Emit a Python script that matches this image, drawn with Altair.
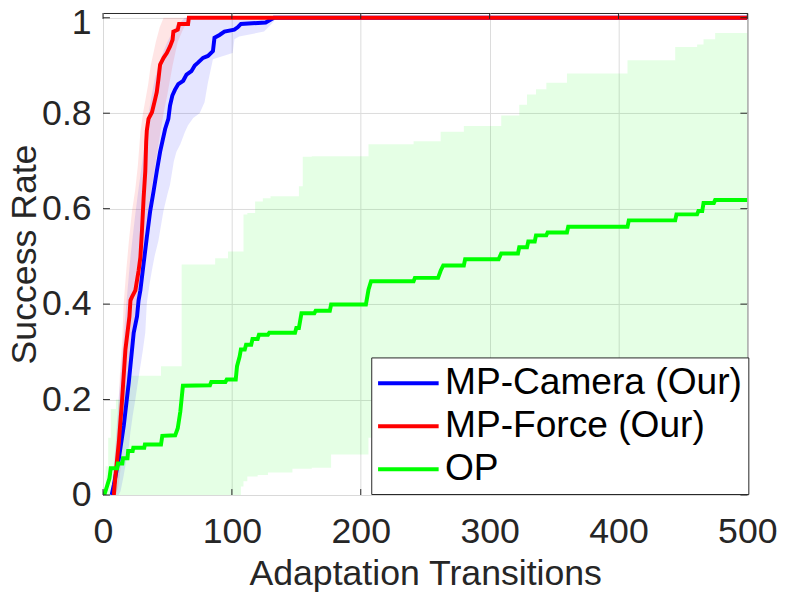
import altair as alt
import pandas as pd

# ---- mean curves ----
cam_x = [6.7, 8.4, 12.3, 16.1, 20, 23.8, 26.4, 27.6, 29, 31.5, 34, 36.6, 39.2, 41.7, 44.3, 48.2, 50.7, 52, 53.8, 55.8,
         58.4, 62.2, 64.8, 68.6, 71.2, 73.7, 77.6, 81.4, 85.3, 86.5, 90.4, 94.2, 101.9, 104.5, 107, 126.2, 132.6, 500]
cam_y = [0, 0.021, 0.077, 0.145, 0.236, 0.34, 0.374, 0.408, 0.429, 0.485, 0.54, 0.595, 0.636, 0.678, 0.719, 0.767, 0.788, 0.816, 0.837, 0.849,
         0.861, 0.868, 0.881, 0.888, 0.90, 0.906, 0.916, 0.92, 0.93, 0.958, 0.964, 0.971, 0.975, 0.98, 0.987, 0.99, 1.0, 1.0]

force_x = [8.4, 9.7, 12.3, 14.8, 17.4, 20.5, 21.3, 22.5, 25.1, 27.6, 29, 30.2, 31.5, 32.8, 33.5, 34, 35.3, 38, 40.5, 41.7,
           43, 44.3, 47, 49.5, 52, 54, 54.6, 58, 59, 66, 66.6, 500]
force_y = [0, 0.042, 0.111, 0.2, 0.305, 0.374, 0.408, 0.415, 0.429, 0.47, 0.498, 0.553, 0.622, 0.678, 0.74, 0.764, 0.788, 0.802, 0.83, 0.844,
           0.871, 0.902, 0.916, 0.926, 0.94, 0.954, 0.971, 0.975, 0.987, 0.987, 1.0, 1.0]

op_x = [1, 5, 6, 11, 11.5, 15, 15.5, 19, 19.5, 23, 23.5, 32, 32.5, 45, 46, 56, 58, 60, 62, 83,
        84, 95, 96, 103, 104, 106, 107, 110, 111, 115, 116, 120, 121, 128, 129, 149, 150, 152, 154, 164,
        165, 176, 177, 204, 206, 208, 241, 242, 260, 262, 264, 280, 281, 307, 309, 322, 323, 329, 330, 335,
        336, 344, 345, 360, 361, 407, 408, 444, 445, 461, 462, 465, 466, 474, 475, 500]
op_y = [0, 0.035, 0.056, 0.056, 0.066, 0.066, 0.077, 0.077, 0.092, 0.092, 0.099, 0.099, 0.106, 0.106, 0.124, 0.125, 0.14, 0.175, 0.229, 0.23,
        0.237, 0.237, 0.242, 0.242, 0.27, 0.29, 0.305, 0.305, 0.315, 0.315, 0.327, 0.327, 0.336, 0.336, 0.34, 0.34, 0.35, 0.35, 0.381, 0.381,
        0.386, 0.386, 0.399, 0.399, 0.43, 0.448, 0.448, 0.455, 0.455, 0.47, 0.481, 0.481, 0.494, 0.494, 0.506, 0.506, 0.519, 0.519, 0.531, 0.531,
        0.544, 0.544, 0.55, 0.55, 0.562, 0.562, 0.5755, 0.5755, 0.588, 0.588, 0.595, 0.595, 0.612, 0.612, 0.618, 0.618]

# ---- shaded bands ----
cam_band_x = [6, 8, 10, 12, 13.6, 16, 17.4, 20, 21.3, 23, 25.1, 27, 29, 31, 32.8, 34, 36, 37.9, 40, 43,
              46.9, 50, 52, 55, 57, 60, 63.5, 66, 70, 75, 78.8, 81.4, 85.3, 100.6, 102, 105.7, 125, 130, 135, 500]
cam_band_lo = [0, 0, 0, 0, 0.008, 0.04, 0.062, 0.1, 0.132, 0.165, 0.2, 0.235, 0.27, 0.305, 0.34, 0.402, 0.44, 0.47, 0.5, 0.533,
               0.595, 0.63, 0.65, 0.7, 0.719, 0.735, 0.76, 0.775, 0.79, 0.8, 0.823, 0.864, 0.913, 0.926, 0.955, 0.961, 0.971, 0.985, 1.0, 1.0]
cam_band_hi = [0, 0.05, 0.12, 0.2, 0.25, 0.33, 0.38, 0.46, 0.5, 0.54, 0.59, 0.63, 0.67, 0.71, 0.75, 0.78, 0.81, 0.84, 0.87, 0.9,
               0.93, 0.95, 0.96, 0.975, 0.985, 0.99, 1.0, 1.0, 1.0, 1.0, 1.0, 1.0, 1.0, 1.0, 1.0, 1.0, 1.0, 1.0, 1.0, 1.0]

force_band_x = [8, 9, 10, 12, 13, 15, 16, 18, 20, 22.5, 25, 27, 29, 31, 33, 35, 37, 41, 44, 47, 50, 54, 58, 62, 67, 500]
force_band_lo = [0, 0, 0, 0.02, 0.04, 0.09, 0.12, 0.18, 0.25, 0.31, 0.37, 0.41, 0.45, 0.5, 0.55, 0.59, 0.63, 0.7, 0.75, 0.8,
                 0.84, 0.9, 0.95, 0.975, 1.0, 1.0]
force_band_hi = [0, 0.05, 0.1, 0.18, 0.25, 0.33, 0.4, 0.47, 0.53, 0.595, 0.64, 0.69, 0.76, 0.8, 0.83, 0.86, 0.9, 0.95, 0.98, 1.0,
                 1.0, 1.0, 1.0, 1.0, 1.0, 1.0]

op_band_x = [0, 2, 4, 6, 10, 14, 20, 45, 61, 87, 97, 107, 109, 112, 118, 120, 124, 128, 130, 147,
             152, 155, 162, 177, 206, 241, 250, 262, 280, 300, 309, 323, 329, 336, 344, 360, 407, 444, 461, 466, 475, 500]
op_band_lo = [0, 0, 0, 0, 0, 0, 0, 0, 0, 0, 0, 0.018, 0.029, 0.039, 0.039, 0.042, 0.042, 0.047, 0.047, 0.055,
              0.055, 0.055, 0.057, 0.085, 0.12, 0.12, 0.14, 0.14, 0.16, 0.17, 0.17, 0.17, 0.19, 0.19, 0.2, 0.21, 0.23, 0.25, 0.26, 0.26, 0.27, 0.27]
op_band_hi = [0, 0.06, 0.12, 0.18, 0.2, 0.23, 0.25, 0.27, 0.483, 0.496, 0.51, 0.51, 0.588, 0.591, 0.615, 0.615, 0.622, 0.622, 0.626, 0.626,
              0.647, 0.709, 0.71, 0.71, 0.735, 0.741, 0.741, 0.761, 0.773, 0.773, 0.795, 0.818, 0.839, 0.85, 0.864, 0.883, 0.911, 0.939, 0.944, 0.955, 0.968, 0.968]

series_names = ["MP-Camera (Our)", "MP-Force (Our)", "OP"]
series_colors = ["#0000ff", "#ff0000", "#00ff00"]
x_ticks = [0, 100, 200, 300, 400, 500]
y_ticks = [0, 0.2, 0.4, 0.6, 0.8, 1.0]

W, H = 651, 487
FONT = "Liberation Sans"
TXT = "#262626"

lines_df = pd.concat([
    pd.DataFrame({"x": cam_x, "y": cam_y, "s": series_names[0], "i": range(len(cam_x))}),
    pd.DataFrame({"x": force_x, "y": force_y, "s": series_names[1], "i": range(len(force_x))}),
    pd.DataFrame({"x": op_x, "y": op_y, "s": series_names[2], "i": range(len(op_x))}),
])
cam_band = pd.DataFrame({"x": cam_band_x, "lo": cam_band_lo, "hi": cam_band_hi})
force_band = pd.DataFrame({"x": force_band_x, "lo": force_band_lo, "hi": force_band_hi})
op_band = pd.DataFrame({"x": op_band_x, "lo": op_band_lo, "hi": op_band_hi})

xscale = alt.Scale(domain=[0, 500], nice=False, zero=False)
yscale = alt.Scale(domain=[0, 1.01], nice=False, zero=False)
xaxis = alt.Axis(values=x_ticks, format="d", title="Adaptation Transitions", grid=True, ticks=False, tickSize=0,
                 domain=False, labelFlush=False, labelOverlap=False, labelPadding=48, labelBaseline="alphabetic",
                 titleX=W / 2, titleY=90, titleBaseline="alphabetic", titleAlign="center")
yaxis = alt.Axis(values=y_ticks, format=".1~f", title="Success Rate", grid=True, ticks=False, tickSize=0,
                 domain=False, labelFlush=False, labelOverlap=False, labelPadding=12,
                 labelOffset={"condition": {"test": "datum.value >= 1", "value": 5}, "value": 0},
                 titleX=-68, titleY=H / 2, titleAngle=270, titleBaseline="alphabetic", titleAlign="center")


def X(field="x"):
    return alt.X(f"{field}:Q", scale=xscale, axis=xaxis)


def Y(field):
    return alt.Y(f"{field}:Q", scale=yscale, axis=yaxis)


def band(df, color, interp):
    return alt.Chart(df).mark_area(color=color, fillOpacity=0.1, interpolate=interp, clip=True).encode(
        x=X(), y=Y("lo"), y2="hi")


bands = [
    band(op_band, series_colors[2], "step-after"),
    band(cam_band, series_colors[0], "linear"),
    band(force_band, series_colors[1], "linear"),
]

lines = alt.Chart(lines_df).mark_line(strokeWidth=4, clip=True).encode(
    x=X(), y=Y("y"),
    color=alt.Color("s:N", scale=alt.Scale(domain=series_names, range=series_colors),
                    legend=alt.Legend(orient="none", legendX=271, legendY=348, title=None,
                                      symbolType="M-1.7,0H1.7", symbolSize=1296, symbolStrokeWidth=4,
                                      symbolOffset=11.5,
                                      labelFont=FONT, labelFontSize=37.5, labelColor="black",
                                      labelOffset=17, rowPadding=4.5, padding=6, labelLimit=600,
                                      strokeColor=TXT, fillColor="white")),
    order=alt.Order("i:Q"),
)

xt = pd.DataFrame({"t": x_ticks})
yt = pd.DataFrame({"t": y_ticks})
tick_color = TXT
ticks = [
    alt.Chart(xt).mark_rule(color=tick_color, strokeWidth=1).encode(x=X("t"), y=alt.value(H), y2=alt.value(H - 6)),
    alt.Chart(xt).mark_rule(color=tick_color, strokeWidth=1).encode(x=X("t"), y=alt.value(0), y2=alt.value(6)),
    alt.Chart(yt).mark_rule(color=tick_color, strokeWidth=1).encode(y=Y("t"), x=alt.value(0), x2=alt.value(7)),
    alt.Chart(yt).mark_rule(color=tick_color, strokeWidth=1).encode(y=Y("t"), x=alt.value(W), x2=alt.value(W - 7)),
]

chart = alt.layer(*bands, lines, *ticks).properties(
    width=W, height=H,
    autosize=alt.AutoSizeParams(type="none"),
    padding={"left": 96, "top": 2, "right": 34, "bottom": 100},
    background="white",
).configure_view(
    stroke=TXT, strokeWidth=1
).configure_axis(
    gridColor="#dcdcdc", gridWidth=1, gridOpacity=1,
    labelFont=FONT, labelFontSize=36, labelColor=TXT,
    titleFont=FONT, titleFontSize=36, titleFontWeight="normal", titleColor=TXT,
)

chart.save("out.html", embed_options={"renderer": "svg", "actions": False})
